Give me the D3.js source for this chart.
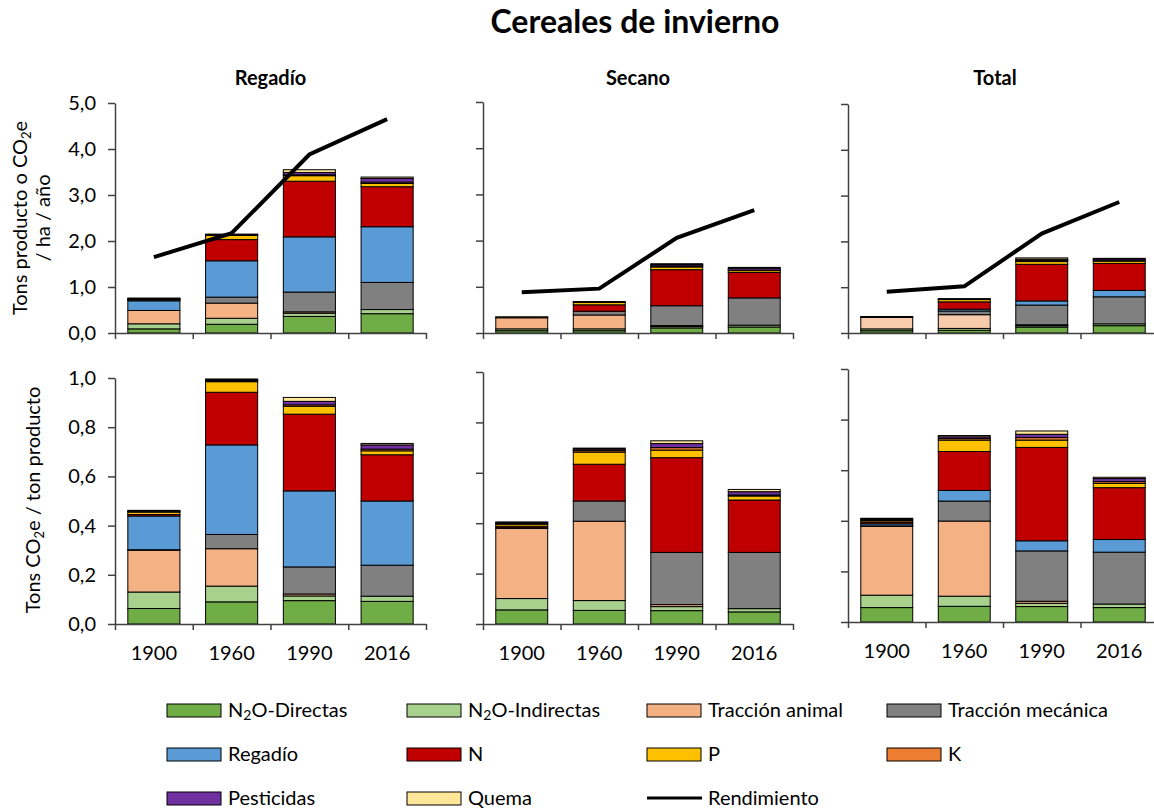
<!DOCTYPE html>
<html>
<head>
<meta charset="utf-8">
<script src="https://cdn.jsdelivr.net/npm/d3@7"></script>
<style>
  body { margin: 0; background: #fff; }
  svg { font-family: Lato, "Open Sans", sans-serif; }
  .axis path, .axis line { stroke: #404040; stroke-width: 1.5px; }
  .axis text { font-size: 20px; fill: #000; font-family: Lato, sans-serif; }
</style>
</head>
<body>
<div id="chart"></div>
<script>
// Categories and series
var years = ["1900", "1960", "1990", "2016"];
var seriesNames = ["N2O-Directas", "N2O-Indirectas", "Tracción animal", "Tracción mecánica",
  "Regadío", "N", "P", "K", "Pesticidas", "Quema"];

// Tons CO2e / ha / año (rows follow seriesNames, columns follow years)
var regadioHa = [
  [0.09, 0.19, 0.36, 0.42],
  [0.11, 0.13, 0.07, 0.09],
  [0.29, 0.33, 0.03, 0.00],
  [0.00, 0.13, 0.43, 0.59],
  [0.21, 0.79, 1.20, 1.21],
  [0.01, 0.46, 1.21, 0.87],
  [0.02, 0.09, 0.12, 0.07],
  [0.01, 0.01, 0.02, 0.03],
  [0.01, 0.01, 0.05, 0.08],
  [0.01, 0.01, 0.06, 0.03]
];
var secanoHa = [
  [0.05, 0.05, 0.11, 0.13],
  [0.04, 0.04, 0.03, 0.04],
  [0.24, 0.30, 0.02, 0.00],
  [0.00, 0.08, 0.43, 0.59],
  [0.00, 0.00, 0.00, 0.00],
  [0.01, 0.14, 0.78, 0.55],
  [0.01, 0.05, 0.06, 0.04],
  [0.00, 0.01, 0.02, 0.01],
  [0.00, 0.01, 0.03, 0.04],
  [0.00, 0.00, 0.02, 0.02]
];
var totalHa = [
  [0.05, 0.06, 0.13, 0.16],
  [0.04, 0.04, 0.03, 0.04],
  [0.25, 0.30, 0.02, 0.00],
  [0.00, 0.08, 0.43, 0.59],
  [0.01, 0.04, 0.09, 0.14],
  [0.01, 0.16, 0.80, 0.59],
  [0.00, 0.05, 0.06, 0.05],
  [0.00, 0.01, 0.02, 0.02],
  [0.00, 0.01, 0.03, 0.03],
  [0.00, 0.00, 0.03, 0.01]
];

// Tons CO2e / ton producto
var regadioTon = [
  [0.063, 0.090, 0.095, 0.092],
  [0.067, 0.064, 0.019, 0.021],
  [0.170, 0.152, 0.008, 0.000],
  [0.002, 0.058, 0.110, 0.126],
  [0.137, 0.364, 0.309, 0.261],
  [0.006, 0.214, 0.312, 0.188],
  [0.010, 0.043, 0.032, 0.016],
  [0.002, 0.004, 0.006, 0.007],
  [0.002, 0.004, 0.014, 0.017],
  [0.003, 0.003, 0.016, 0.006]
];
var secanoTon = [
  [0.056, 0.054, 0.053, 0.048],
  [0.045, 0.039, 0.016, 0.013],
  [0.278, 0.315, 0.008, 0.000],
  [0.003, 0.080, 0.207, 0.223],
  [0.000, 0.000, 0.000, 0.000],
  [0.006, 0.146, 0.376, 0.208],
  [0.008, 0.048, 0.030, 0.016],
  [0.004, 0.006, 0.010, 0.004],
  [0.003, 0.006, 0.016, 0.013],
  [0.002, 0.004, 0.011, 0.009]
];
var totalTon = [
  [0.057, 0.062, 0.061, 0.057],
  [0.049, 0.040, 0.013, 0.014],
  [0.272, 0.297, 0.008, 0.000],
  [0.002, 0.079, 0.199, 0.205],
  [0.008, 0.042, 0.040, 0.050],
  [0.006, 0.154, 0.369, 0.205],
  [0.006, 0.045, 0.029, 0.017],
  [0.004, 0.006, 0.010, 0.007],
  [0.003, 0.007, 0.013, 0.012],
  [0.003, 0.005, 0.013, 0.005]
];

// Rendimiento (tons producto / ha / año)
var regadioYield = [1.65, 2.17, 3.88, 4.65];
var secanoYield = [0.88, 0.96, 2.06, 2.66];
var totalYield = [0.90, 1.02, 2.17, 2.86];

var topTicks = [0, 1, 2, 3, 4, 5];
var bottomTicks = [0, 0.2, 0.4, 0.6, 0.8, 1.0];

var colors = ["#70AD47", "#A9D18E", "#F4B183", "#808080", "#5B9BD5",
  "#C00000", "#FFC000", "#ED7D31", "#7030A0", "#FFE699"];

var svgWidth = 1154;
var svgHeight = 809;

var svg = d3.select("#chart")
  .append("svg")
  .attr("width", svgWidth)
  .attr("height", svgHeight);

// panel layout
var panels = [
  { title: "Regadío", x0: 115, x1: 426, top: regadioHa, bottom: regadioTon, yld: regadioYield,
    topRange: [333, 103], bottomRange: [624, 378], labels: true },
  { title: "Secano", x0: 483, x1: 793, top: secanoHa, bottom: secanoTon, yld: secanoYield,
    topRange: [333, 102], bottomRange: [624, 372], labels: false },
  { title: "Total", x0: 848, x1: 1158, top: totalHa, bottom: totalTon, yld: totalYield,
    topRange: [333, 104], bottomRange: [622, 369], labels: false }
];

var comma = d => d3.format(".1f")(d).replace(".", ",");

function buildTable(rows) {
  return years.map(function (yr, i) {
    var o = { year: yr };
    seriesNames.forEach(function (s, k) { o[s] = rows[k][i]; });
    return o;
  });
}

function drawPanel(p, rows, yRange, yMax, ticks, yieldLine, showYears, peach) {
  var x = d3.scaleBand()
    .domain(years)
    .range([p.x0, p.x1])
    .paddingInner(0.33)
    .paddingOuter(0.165);

  var xEdge = d3.scaleLinear().domain([0, years.length]).range([p.x0, p.x1]);

  var y = d3.scaleLinear().domain([0, yMax]).range(yRange);

  var stacked = d3.stack().keys(seriesNames)(buildTable(rows));

  var g = svg.append("g");

  g.selectAll("g.layer")
    .data(stacked)
    .enter()
    .append("g")
    .attr("class", "layer")
    .attr("fill", (d, i) => (i === 2 && peach) ? peach : colors[i])
    .selectAll("rect")
    .data(d => d)
    .enter()
    .append("rect")
    .attr("x", d => x(d.data.year))
    .attr("width", x.bandwidth())
    .attr("y", d => y(d[1]))
    .attr("height", d => y(d[0]) - y(d[1]))
    .attr("stroke", "#000")
    .attr("stroke-width", 1);

  // y axis
  g.append("g")
    .attr("class", "axis")
    .attr("transform", `translate(${p.x0}, 0)`)
    .call(d3.axisLeft(y).tickValues(ticks)
      .tickFormat(p.labels ? comma : "")
      .tickSize(7).tickSizeOuter(0).tickPadding(12));

  // x axis with ticks between categories
  g.append("g")
    .attr("class", "axis")
    .attr("transform", `translate(0, ${yRange[0]})`)
    .call(d3.axisBottom(xEdge).tickValues(d3.range(years.length + 1))
      .tickFormat("").tickSize(6).tickSizeOuter(0));

  if (showYears) {
    g.selectAll("text.year")
      .data(years)
      .enter()
      .append("text")
      .attr("class", "year")
      .attr("x", d => x(d) + x.bandwidth() / 2)
      .attr("y", yRange[0] + 36)
      .attr("text-anchor", "middle")
      .style("font-size", "20px")
      .text(d => d);
  }

  if (yieldLine) {
    var line = d3.line()
      .x((d, i) => x(years[i]) + x.bandwidth() / 2)
      .y(d => y(d));
    g.append("path")
      .datum(yieldLine)
      .attr("d", line)
      .attr("fill", "none")
      .attr("stroke", "#000")
      .attr("stroke-width", 4);
  }
}

panels.forEach(function (p, i) {
  drawPanel(p, p.top, p.topRange, 5, topTicks, p.yld, false, i === 2 ? "#F8CBAD" : null);
  drawPanel(p, p.bottom, p.bottomRange, 1, bottomTicks, null, true, null);
  svg.append("text")
    .attr("x", i === 2 ? 995 : (p.x0 + p.x1) / 2)
    .attr("y", 85)
    .attr("text-anchor", "middle")
    .style("font-size", "20px")
    .style("font-weight", "bold")
    .text(p.title);
});

// main title
svg.append("text")
  .attr("x", 635)
  .attr("y", 33)
  .attr("text-anchor", "middle")
  .style("font-size", "32px")
  .style("font-weight", "bold")
  .text("Cereales de invierno");

// y axis labels
var yl1 = svg.append("text")
  .attr("transform", "translate(27, 218) rotate(-90)")
  .attr("text-anchor", "middle")
  .style("font-size", "20px");
yl1.append("tspan").text("Tons producto o CO");
yl1.append("tspan").attr("dy", 4).style("font-size", "13px").text("2");
yl1.append("tspan").attr("dy", -4).text("e");

svg.append("text")
  .attr("transform", "translate(50, 218) rotate(-90)")
  .attr("text-anchor", "middle")
  .style("font-size", "20px")
  .text("/ ha / año");

var yl2 = svg.append("text")
  .attr("transform", "translate(40, 500) rotate(-90)")
  .attr("text-anchor", "middle")
  .style("font-size", "20px");
yl2.append("tspan").text("Tons CO");
yl2.append("tspan").attr("dy", 4).style("font-size", "13px").text("2");
yl2.append("tspan").attr("dy", -4).text("e / ton producto");

// legend
var legendItems = seriesNames.concat(["Rendimiento"]);
var legend = svg.append("g");

legendItems.forEach(function (name, i) {
  var col = i % 4;
  var row = Math.floor(i / 4);
  var lx = 167 + col * 240;
  var ly = 710 + row * 44;
  var item = legend.append("g").attr("transform", `translate(${lx}, ${ly})`);
  if (name === "Rendimiento") {
    item.append("line")
      .attr("x1", 0).attr("x2", 55)
      .attr("y1", 0).attr("y2", 0)
      .attr("stroke", "#000")
      .attr("stroke-width", 3);
  } else {
    item.append("rect")
      .attr("x", 0).attr("y", -6)
      .attr("width", 54).attr("height", 13)
      .attr("fill", colors[i])
      .attr("stroke", "#000")
      .attr("stroke-width", 1);
  }
  var t = item.append("text")
    .attr("x", 61)
    .attr("y", 7)
    .style("font-size", "20px");
  if (name.indexOf("N2O") === 0) {
    t.append("tspan").text("N");
    t.append("tspan").attr("dy", 3).style("font-size", "14px").text("2");
    t.append("tspan").attr("dy", -3).text(name.slice(2));
  } else {
    t.text(name);
  }
});
</script>
</body>
</html>
